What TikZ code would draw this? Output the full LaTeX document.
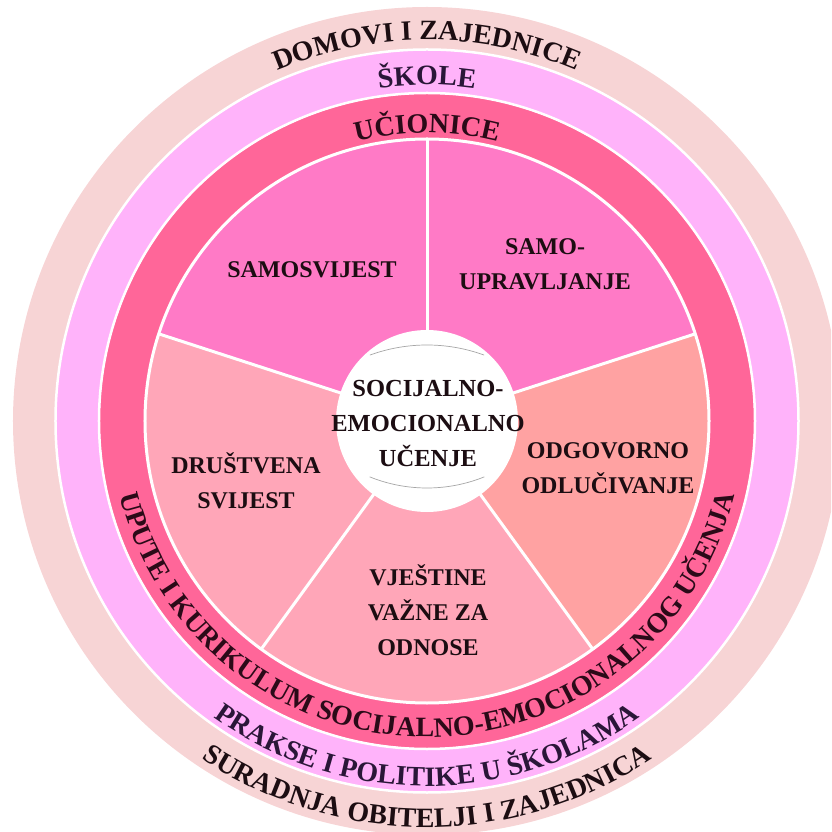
\documentclass[tikz,border=0pt]{standalone}
\usepackage{fontspec}
\setmainfont{Liberation Serif}
\usetikzlibrary{decorations.text}
\definecolor{bandouter}{HTML}{F7D4D5}
\definecolor{bandskole}{HTML}{FFB3FA}
\definecolor{bandclass}{HTML}{FF6699}
\definecolor{slicetop}{HTML}{FF7AC6}
\definecolor{slicesalmon}{HTML}{FFA2A2}
\definecolor{slicelight}{HTML}{FFA6B8}
\definecolor{txtdark}{HTML}{1C0D12}
\definecolor{txtpurple}{HTML}{2A1638}
\definecolor{txtred}{HTML}{2B0A18}
\begin{document}
\begin{tikzpicture}[x=1pt,y=1pt,
  lbl/.style={font=\bfseries\fontsize{24}{35}\selectfont, align=center, text=txtdark, inner sep=0pt},
  sep/.style={white, line width=3pt},
  arctext/.style 2 args={decorate, decoration={text along path, text align=center, text color=#1,
      text={|\bfseries\fontsize{28}{28}\selectfont|#2}}}
]
\useasboundingbox (-427,-411) rectangle (404,421);
\clip (-427,-411) rectangle (404,421);
% bands
\fill[bandouter] (0,0) circle[radius=414];
\fill[bandskole] (0,0) circle[radius=371];
\fill[bandclass] (0,0) circle[radius=327];
\draw[white, line width=2.5pt] (0,0) circle[radius=371.5];
\draw[white, line width=2.5pt] (0,0) circle[radius=328];
% slices
\fill[slicetop] (0,0) -- (90:281) arc[start angle=90, end angle=162, radius=281] -- cycle;
\fill[slicetop] (0,0) -- (18:281) arc[start angle=18, end angle=90, radius=281] -- cycle;
\fill[slicesalmon] (0,0) -- (-54:281) arc[start angle=-54, end angle=18, radius=281] -- cycle;
\fill[slicelight] (0,0) -- (234:281) arc[start angle=234, end angle=306, radius=281] -- cycle;
\fill[slicelight] (0,0) -- (162:281) arc[start angle=162, end angle=234, radius=281] -- cycle;
\draw[white, line width=3pt] (0,0) circle[radius=282];
\foreach \a in {18,90,162,234,306} \draw[sep] (0,0) -- (\a:282);
% centre
\fill[white] (0,0) circle[radius=91];
\draw[gray!70, line width=0.7pt] (0,-91) ++(70:167) arc[start angle=70, end angle=110, radius=167];
\draw[gray!70, line width=0.7pt] (0,86) ++(-112:153) arc[start angle=-112, end angle=-68, radius=153];
\node[lbl, font=\bfseries\fontsize{24.5}{35}\selectfont] (sel) at (1,-3) {SOCIJALNO-\\EMOCIONALNO\\UČENJE};
% slice labels
\node[lbl] (samosvijest) at (-115,151) {SAMOSVIJEST};
\node[lbl] (samoupr) at (118,157) {SAMO-\\UPRAVLJANJE};
\node[lbl] (odgovorno) at (181,-47) {ODGOVORNO\\ODLUČIVANJE};
\node[lbl] (drustvena) at (-181,-60) {DRUŠTVENA\\SVIJEST};
\node[lbl] (vjestine) at (1,-189) {VJEŠTINE\\VAŽNE ZA\\ODNOSE};
% curved texts
\path[arctext={txtdark}{DOMOVI I ZAJEDNICE}] (170:381) arc[start angle=170, end angle=10, radius=381];
\path[arctext={txtpurple}{ŠKOLE}] (160:336) arc[start angle=160, end angle=20, radius=336];
\path[arctext={txtred}{UČIONICE}] (160:288) arc[start angle=160, end angle=20, radius=288];
\path[arctext={txtred}{UPUTE I KURIKULUM SOCIJALNO-EMOCIONALNOG UČENJA}] (180:316) arc[start angle=180, end angle=360, radius=316];
\path[arctext={txtpurple}{PRAKSE I POLITIKE U ŠKOLAMA}] (190:365) arc[start angle=190, end angle=350, radius=365];
\path[arctext={txtdark}{SURADNJA OBITELJI I ZAJEDNICA}] (190:406) arc[start angle=190, end angle=350, radius=406];
\end{tikzpicture}
\end{document}
